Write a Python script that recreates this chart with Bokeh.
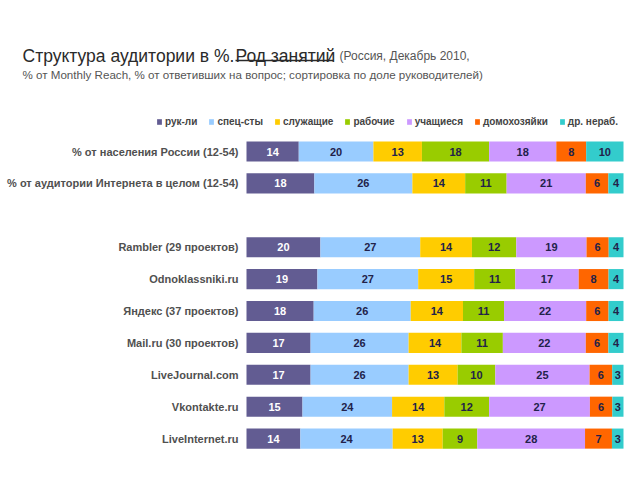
from bokeh.plotting import figure
from bokeh.models import ColumnDataSource, Range1d, Legend, LegendItem
from bokeh.embed import file_html
from bokeh.resources import INLINE
from bokeh.core.properties import value

categories = [
    "% от населения России (12-54)",
    "% от аудитории Интернета в целом (12-54)",
    "Rambler (29 проектов)",
    "Odnoklassniki.ru",
    "Яндекс (37 проектов)",
    "Mail.ru (30 проектов)",
    "LiveJournal.com",
    "Vkontakte.ru",
    "LiveInternet.ru",
]
series_names = ["рук-ли", "спец-сты", "служащие", "рабочие", "учащиеся", "домохозяйки", "др. нераб."]
ruk = [14, 18, 20, 19, 18, 17, 17, 15, 14]
spec = [20, 26, 27, 27, 26, 26, 26, 24, 24]
sluzh = [13, 14, 14, 15, 14, 14, 13, 14, 13]
rab = [18, 11, 12, 11, 11, 11, 10, 12, 9]
uch = [18, 21, 19, 17, 22, 22, 25, 27, 28]
dom = [8, 6, 6, 8, 6, 6, 6, 6, 7]
dr = [10, 4, 4, 4, 4, 4, 3, 3, 3]
series = [ruk, spec, sluzh, rab, uch, dom, dr]

colors = ["#625C92", "#99CCFF", "#FFCC00", "#99CC00", "#CC99FF", "#FF6600", "#33CCCC"]
text_colors = ["#FFFFFF", "#22224A", "#22224A", "#22224A", "#22224A", "#22224A", "#22224A"]
row_pos = [0, 1, 3, 4, 5, 6, 7, 8, 9]

W, H = 624, 464
# frame pixel -> data mapping
SX = 3.77
X0 = -246 / SX
SY = 31.9
Y0 = -151 / SY


def px(x):
    return X0 + x / SX


def py(y):
    return Y0 + y / SY


FONT = value("Liberation Sans")

p = figure(width=W, height=H, output_backend="svg", toolbar_location=None,
           x_range=Range1d(X0, X0 + W / SX), y_range=Range1d(Y0 + H / SY, Y0),
           min_border=0, outline_line_color=None, background_fill_color="white",
           border_fill_color="white")
p.axis.visible = False
p.grid.visible = False

totals = [sum(s[i] for s in series) for i in range(len(categories))]
cum = [0.0] * len(categories)
items = []
for k, s in enumerate(series):
    left = [cum[i] / totals[i] * 100 for i in range(len(categories))]
    right = [(cum[i] + s[i]) / totals[i] * 100 for i in range(len(categories))]
    cum = [cum[i] + s[i] for i in range(len(categories))]
    src = ColumnDataSource(dict(y=row_pos, left=left, right=right,
                                mid=[(a + b) / 2 for a, b in zip(left, right)],
                                lab=[str(v) for v in s]))
    r = p.hbar(y="y", left="left", right="right", height=0.63, source=src,
               fill_color=colors[k], line_color=None)
    p.text(x="mid", y="y", text="lab", source=src, text_align="center",
           text_baseline="middle", text_font=FONT, text_font_size="11px",
           text_font_style="bold", text_color=text_colors[k])
    items.append(LegendItem(label=series_names[k], renderers=[r]))

# category labels
p.text(x=[px(238)] * len(categories), y=row_pos, text=categories,
       text_align="right", text_baseline="middle", text_font=FONT,
       text_font_size="11px", text_font_style="bold", text_color="#505050")

# title
p.text(x=[px(22)], y=[py(55)], text=["Структура аудитории в %."],
       text_font=FONT, text_font_size="17.5px", text_color="#2A2A2A",
       text_baseline="alphabetic")
p.text(x=[px(235)], y=[py(55)], text=["Род занятий"],
       text_font=FONT, text_font_size="17.5px", text_color="#2A2A2A",
       text_baseline="alphabetic")
p.segment(x0=[px(235)], x1=[px(333)], y0=[py(60)], y1=[py(60)],
          line_color="#2A2A2A", line_width=1.5)
p.text(x=[px(339)], y=[py(55)], text=["(Россия, Декабрь 2010,"],
       text_font=FONT, text_font_size="12px", text_color="#555555",
       text_baseline="alphabetic")
p.text(x=[px(22)], y=[py(74)],
       text=["% от Monthly Reach, % от ответивших на вопрос; сортировка по доле руководителей)"],
       text_font=FONT, text_font_size="11.6px", text_color="#555555",
       text_baseline="alphabetic")

legend = Legend(items=items, orientation="horizontal", location=(156, 337),
                glyph_width=6, glyph_height=7, label_text_font="Liberation Sans",
                label_text_font_size="10px", label_text_font_style="bold",
                label_text_color="#444444", label_standoff=3, spacing=11,
                padding=0, margin=0, border_line_alpha=0, background_fill_alpha=0,
                label_height=12)
p.add_layout(legend)

open("out.html", "w").write(file_html(p, INLINE))
